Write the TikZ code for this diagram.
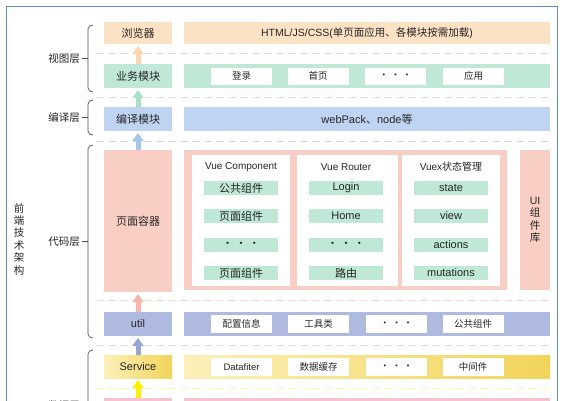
\documentclass[tikz,border=0pt]{standalone}
\usepackage{fontspec}
\setmainfont{Noto Sans CJK SC}
\newfontfamily\lat{Liberation Sans}
\usetikzlibrary{arrows.meta}
\definecolor{cOrange}{HTML}{FCE2C4}
\definecolor{cGreen}{HTML}{BFE8D6}
\definecolor{cBlue}{HTML}{BFD4F2}
\definecolor{cPink}{HTML}{F9CEC4}
\definecolor{cUtil}{HTML}{AFBAE0}
\definecolor{cYelL}{HTML}{FCF0B8}
\definecolor{cYelD}{HTML}{F2D45A}
\definecolor{cData}{HTML}{F7C3D2}
\definecolor{cFrame}{HTML}{5B8BC9}
\definecolor{cText}{HTML}{262626}
\definecolor{cDash}{HTML}{DCDCDC}
\definecolor{aOrange}{HTML}{FCD6B0}
\definecolor{aGreen}{HTML}{ABE0C8}
\definecolor{aBlue}{HTML}{A7C6EE}
\definecolor{aPink}{HTML}{F5B5AC}
\definecolor{aUtil}{HTML}{97A5D6}
\definecolor{aYel}{HTML}{FFF000}
\begin{document}
\begin{tikzpicture}[x=1pt,y=-1pt,
  box/.style={inner sep=0pt, outer sep=0pt, text=cText, font=\fontsize{11}{13}\selectfont},
  wbox/.style={box, fill=white, minimum width=61pt, minimum height=17pt, font=\fontsize{9.5}{11}\selectfont},
  gbox/.style={box, fill=cGreen, minimum width=74pt, minimum height=14pt, font=\fontsize{11}{12}\selectfont},
  col/.style={box, fill=white, minimum height=131pt},
  ttl/.style={box, font=\fontsize{10}{11}\selectfont},
  lbl/.style={box, font=\fontsize{10.5}{12}\selectfont, anchor=east},
  sep/.style={cDash, dash pattern=on 7pt off 5pt, line width=1pt},
  brk/.style={draw=cText!80, line width=0.7pt},
  fat/.style={-{Triangle[width=11pt,length=8pt]}, line width=5pt, shorten >=2pt}
]
\useasboundingbox (0,0) rectangle (563,400);
\clip (0,0) rectangle (563,400);
\fill[white] (0,0) rectangle (563,400);

% frame
\draw[cFrame, line width=1pt] (6,6) rectangle (557,430);

% dashed separators
\draw[sep] (97,53) -- (553,53);
\draw[sep] (97,97) -- (553,97);
\draw[sep, draw=cBlue!70!gray!60] (97,141) -- (553,141);
\draw[sep, draw=cPink!80] (97,300) -- (553,300);
\draw[sep] (97,345) -- (553,345);
\draw[sep, draw=yellow!40] (97,388) -- (553,388);

% view layer
\node[box, fill=cOrange, minimum width=68pt, minimum height=22pt] (browser) at (138,33) {浏览器};
\node[box, fill=cOrange, minimum width=366pt, minimum height=22pt, font=\fontsize{10.5}{12}\selectfont] (html) at (367,33) {{\lat HTML/JS/CSS(}单页面应用、各模块按需加载{\lat )}};
\node[box, fill=cGreen, minimum width=68pt, minimum height=24pt] (yewu) at (138,76) {业务模块};
\node[box, fill=cGreen, minimum width=366pt, minimum height=24pt] (yewubar) at (367,76) {};
\node[wbox] (login) at (241.5,76) {登录};
\node[wbox] (home) at (318,76) {首页};
\node[wbox] (vdots) at (395.5,76) {· · ·};
\node[wbox] (app) at (473.5,76) {应用};

% compile layer
\node[box, fill=cBlue, minimum width=68pt, minimum height=24pt] (bianyi) at (138,119) {编译模块};
\node[box, fill=cBlue, minimum width=366pt, minimum height=24pt, font=\fontsize{11}{12}\selectfont] (webpack) at (367,119) {{\lat webPack}、{\lat node}等};

% code layer
\node[box, fill=cPink, minimum width=68pt, minimum height=142pt] (page) at (138,221) {页面容器};
\node[box, fill=cPink, minimum width=323pt, minimum height=140pt] (big) at (345.5,220) {};
\node[box, fill=cPink, minimum width=30pt, minimum height=140pt, align=center, font=\fontsize{10.5}{12.5}\selectfont] (uilib) at (535,220) {{\lat UI}\\组\\件\\库};

\node[col, minimum width=98pt] (c1) at (241,220.5) {};
\node[col, minimum width=101pt] (c2) at (347.5,220.5) {};
\node[col, minimum width=98pt] (c3) at (451,220.5) {};

\node[ttl] (t1) at (241,167) {\lat Vue Component};
\node[ttl] (t2) at (346,167) {\lat Vue Router};
\node[ttl] (t3) at (451,167) {{\lat Vuex}状态管理};

\node[gbox] (g11) at (241,188) {公共组件};
\node[gbox] (g12) at (241,216) {页面组件};
\node[gbox] (g13) at (241,245) {· · ·};
\node[gbox] (g14) at (241,273) {页面组件};
\node[gbox] (g21) at (346,188) {\lat Login};
\node[gbox] (g22) at (346,216) {\lat Home};
\node[gbox] (g23) at (346,245) {· · ·};
\node[gbox] (g24) at (346,273) {路由};
\node[gbox] (g31) at (451,188) {\lat state};
\node[gbox] (g32) at (451,216) {\lat view};
\node[gbox] (g33) at (451,245) {\lat actions};
\node[gbox] (g34) at (451,273) {\lat mutations};

% util
\node[box, fill=cUtil, minimum width=68pt, minimum height=24pt] (util) at (138,324) {\lat util};
\node[box, fill=cUtil, minimum width=366pt, minimum height=24pt] (utilbar) at (367,324) {};
\node[wbox, minimum height=18pt] (u1) at (241.5,324) {配置信息};
\node[wbox, minimum height=18pt] (u2) at (318.5,324) {工具类};
\node[wbox, minimum height=18pt] (u3) at (396.5,324) {· · ·};
\node[wbox, minimum height=18pt] (u4) at (473,324) {公共组件};

% data layer
\node[box, left color=cYelL, right color=cYelD, minimum width=68pt, minimum height=23pt] (service) at (138,366.5) {\lat Service};
\node[box, left color=cYelL, right color=cYelD, minimum width=366pt, minimum height=23pt] (servbar) at (367,366.5) {};
\node[wbox, minimum height=18pt] (s1) at (241.5,367) {\lat Datafiter};
\node[wbox, minimum height=18pt] (s2) at (318.5,367) {数据缓存};
\node[wbox, minimum height=18pt] (s3) at (396.5,367) {· · ·};
\node[wbox, minimum height=18pt] (s4) at (473,367) {中间件};
\node[box, fill=cData, minimum width=68pt, minimum height=24pt] (data) at (138,410) {};
\node[box, fill=cData, minimum width=366pt, minimum height=24pt] (databar) at (367,410) {};

% arrows
\draw[fat, aOrange] (yewu.north) -- (browser.south);
\draw[fat, aGreen] (bianyi.north) -- (yewu.south);
\draw[fat, aBlue] (page.north) -- (bianyi.south);
\draw[fat, aPink] (util.north) -- (page.south);
\draw[fat, aUtil] (service.north) -- (util.south);
\draw[fat, aYel] (data.north) -- (service.south);

% brackets and labels
\draw[brk] (93,25) to[out=180,in=90] (88,29) -- (88,88) to[out=-90,in=180] (93,92);
\draw[brk] (88,58.5) -- (82,58.5);
\node[lbl] (lv) at (80,58.5) {视图层};
\draw[brk] (93,100) to[out=180,in=90] (88,104) -- (88,131) to[out=-90,in=180] (93,135);
\draw[brk] (88,117.5) -- (82,117.5);
\node[lbl] (lc) at (80,117.5) {编译层};
\draw[brk] (93,145) to[out=180,in=90] (88,149) -- (88,334) to[out=-90,in=180] (93,338);
\draw[brk] (88,241.5) -- (82,241.5);
\node[lbl] (lk) at (80,241.5) {代码层};
\draw[brk] (93,350) to[out=180,in=90] (88,354) -- (88,460);
\node[lbl] (ld) at (80,406) {数据层};

\node[box, align=center, font=\fontsize{10.5}{12.4}\selectfont] (arch) at (19,239) {前\\端\\技\\术\\架\\构};
\end{tikzpicture}
\end{document}
